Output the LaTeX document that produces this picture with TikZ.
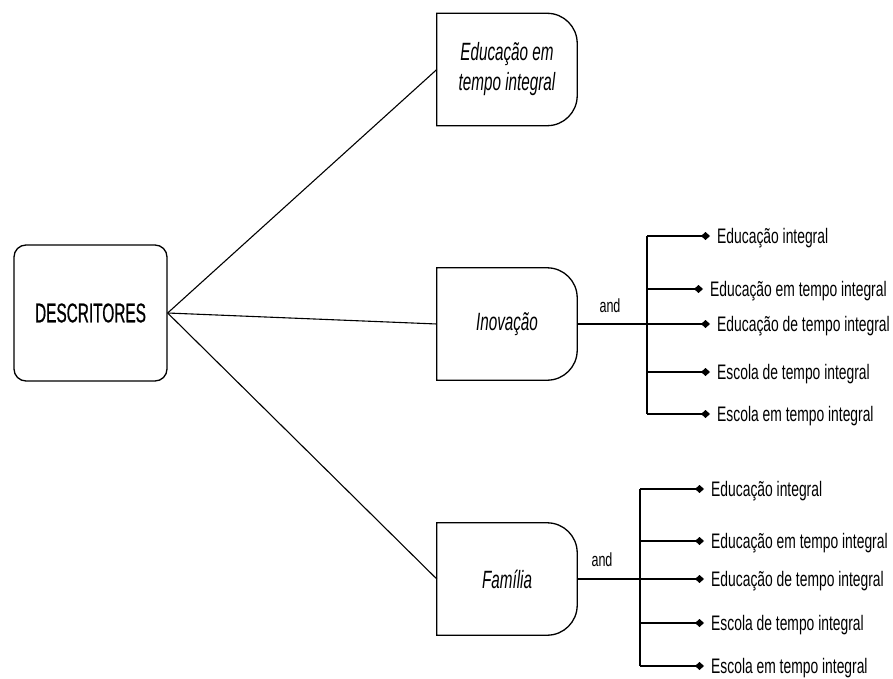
\documentclass[tikz,border=0pt]{standalone}
\usepackage{fontspec}
\setmainfont{Liberation Sans}[FakeStretch=0.66]
\newfontfamily\rootfont{Liberation Sans}[FakeStretch=0.57,FakeBold=0.6]
\newfontfamily\gatefont{Liberation Sans}[FakeStretch=0.61]
\usetikzlibrary{arrows.meta}

\tikzset{
    conn/.style={line width=1.1pt},
    rootbox/.style={draw,line width=1.3pt,rounded corners=12pt,
        minimum width=153pt,minimum height=136pt,font=\rootfont\fontsize{27}{30}\selectfont},
    gatebox/.style={minimum width=140pt,minimum height=112pt,align=center,
        font=\gatefont\fontsize{25}{30}\selectfont\itshape},
    leaf/.style={anchor=west,inner xsep=7pt,text height=15pt,text depth=0pt,
        font=\fontsize{21}{25}\selectfont},
    andlabel/.style={font=\fontsize{19}{22}\selectfont},
    tip/.style={conn,-{Diamond[length=9pt,width=8pt]}}
}

\begin{document}
\begin{tikzpicture}[x=1pt,y=-1pt]
    \useasboundingbox (0,0) rectangle (893,679);

    \node[rootbox] (root) at (90.5,313) {DESCRITORES};
    \node[gatebox] (tempo) at (507,69.5) {Educação em\\tempo integral};
    \node[gatebox] (inov) at (507,324) {Inovação};
    \node[gatebox] (fam) at (507,579) {Família};

    \foreach \g in {tempo,inov,fam}{
        \draw[line width=1.3pt] (\g.south west) -- (\g.north west)
            -- ([xshift=-30pt]\g.north east) arc[start angle=90,end angle=0,radius=30pt]
            -- ([yshift=30pt]\g.south east) arc[start angle=0,end angle=-90,radius=30pt]
            -- cycle;
    }

    \draw[conn] (root.east) -- (tempo.west);
    \draw[conn] (root.east) -- (inov.west);
    \draw[conn] (root.east) -- (fam.west);

    % inovação
    \foreach \x/\y/\t [count=\i] in {710/236/Educação integral,
        703/289/Educação em tempo integral,710/324/Educação de tempo integral,
        710/372/Escola de tempo integral,710/414/Escola em tempo integral}{
        \coordinate (ib\i) at (647,\y);
        \node[leaf] (it\i) at (\x,\y) {\t};
        \draw[tip] (ib\i) -- (it\i.west);
    }
    \draw[conn] (ib1) -- (ib5);
    \draw[conn] (inov.east) -- (ib3);
    \node[andlabel] (inovand) at (610,306) {and};

    % família
    \foreach \x/\y/\t [count=\i] in {704/489/Educação integral,
        704/541/Educação em tempo integral,704/579/Educação de tempo integral,
        704/623/Escola de tempo integral,704/666/Escola em tempo integral}{
        \coordinate (fb\i) at (640,\y);
        \node[leaf] (ft\i) at (\x,\y) {\t};
        \draw[tip] (fb\i) -- (ft\i.west);
    }
    \draw[conn] (fb1) -- (fb5);
    \draw[conn] (fam.east) -- (fb3);
    \node[andlabel] (famand) at (602,560) {and};
\end{tikzpicture}
\end{document}
